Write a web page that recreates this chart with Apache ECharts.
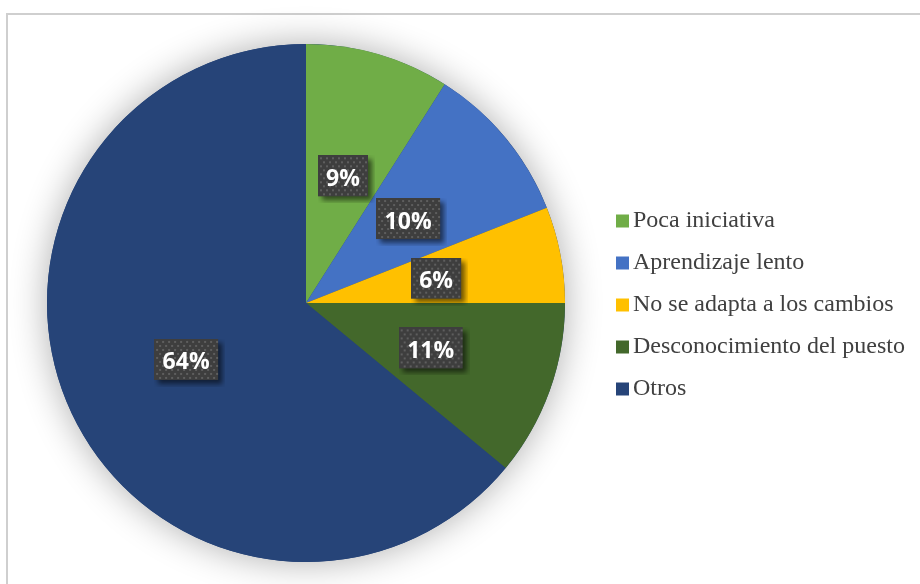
<!DOCTYPE html>
<html>
<head>
<meta charset="utf-8">
<script src="https://cdn.jsdelivr.net/npm/echarts@6/dist/echarts.min.js"></script>
<style>
  html, body { margin: 0; padding: 0; background: #ffffff; }
  #chart { width: 920px; height: 584px; }
</style>
</head>
<body>
<div id="chart"></div>
<script>
// Motivos y su porcentaje
const categories = ['Poca iniciativa', 'Aprendizaje lento', 'No se adapta a los cambios', 'Desconocimiento del puesto', 'Otros'];
const values = [9, 10, 6, 11, 64];
const colors = ['#70AD47', '#4472C4', '#FFC000', '#43682B', '#264478'];

// Label plate: dotted dark tile with a soft drop shadow painted in its margin
const SH = 7;
function dottedTile(w, h) {
  const c = document.createElement('canvas');
  c.width = w + SH; c.height = h + SH;
  const g = c.getContext('2d');
  g.save();
  g.shadowColor = 'rgba(0,0,0,0.55)';
  g.shadowBlur = 5;
  g.shadowOffsetX = 4;
  g.shadowOffsetY = 4;
  g.fillStyle = '#3e3e3e';
  g.fillRect(0, 0, w, h);
  g.restore();
  g.fillStyle = '#5e5e5e';
  for (let y = 2, row = 0; y < h - 1; y += 4, row++) {
    for (let x = (row % 2) * 3 + 2; x < w - 1; x += 6) {
      g.fillRect(x, y, 2, 2);
    }
  }
  return c;
}

const tileShort = dottedTile(50, 41);
const tileLong = dottedTile(64, 41);

const chart = echarts.init(document.getElementById('chart'), null, { renderer: 'canvas' });

const data = categories.map((name, i) => {
  const txt = values[i] + '%';
  const long = txt.length > 2;
  return {
    name: name,
    value: values[i],
    itemStyle: { color: colors[i] },
    label: {
      width: long ? 46 : 32,
      height: 31,
      overflow: 'none',
      backgroundColor: { image: long ? tileLong : tileShort }
    }
  };
});

chart.setOption({
  animation: false,
  graphic: [{
    type: 'rect',
    shape: { x: 7, y: 14, width: 940, height: 600 },
    style: { fill: 'none', stroke: '#cfcfcf', lineWidth: 2 },
    silent: true,
    z: -10
  }],
  legend: {
    orient: 'vertical',
    left: 616,
    top: 209,
    padding: 0,
    itemWidth: 13,
    itemHeight: 13,
    itemGap: 18,
    icon: 'rect',
    data: categories,
    textStyle: {
      fontFamily: '"Liberation Serif", "Times New Roman", serif',
      fontSize: 24,
      lineHeight: 24,
      color: '#404040',
      padding: [0, 0, 0, -1]
    }
  },
  series: [
    {
      // soft glow beneath the pie
      type: 'pie',
      silent: true,
      center: [306, 303],
      radius: [0, 259],
      label: { show: false },
      labelLine: { show: false },
      itemStyle: {
        color: '#264478',
        shadowBlur: 36,
        shadowColor: 'rgba(0,0,0,0.32)'
      },
      data: [{ value: 1, name: '' }],
      legendHoverLink: false,
      z: 1
    },
    {
      type: 'pie',
      center: [306, 303],
      radius: [0, 259],
      startAngle: 90,
      clockwise: true,
      z: 2,
      label: {
        show: true,
        position: 'inside',
        formatter: '{d}%',
        color: '#ffffff',
        fontFamily: '"Open Sans", "Liberation Sans", sans-serif',
        fontWeight: 'bold',
        fontSize: 23,
        align: 'center',
        verticalAlign: 'middle',
        lineHeight: 31,
        padding: [5, 9 + SH, 5 + SH, 9],
        offset: [SH / 2, SH / 2]
      },
      labelLine: { show: false },
      itemStyle: { borderWidth: 0 },
      data: data
    }
  ]
});
</script>
</body>
</html>
